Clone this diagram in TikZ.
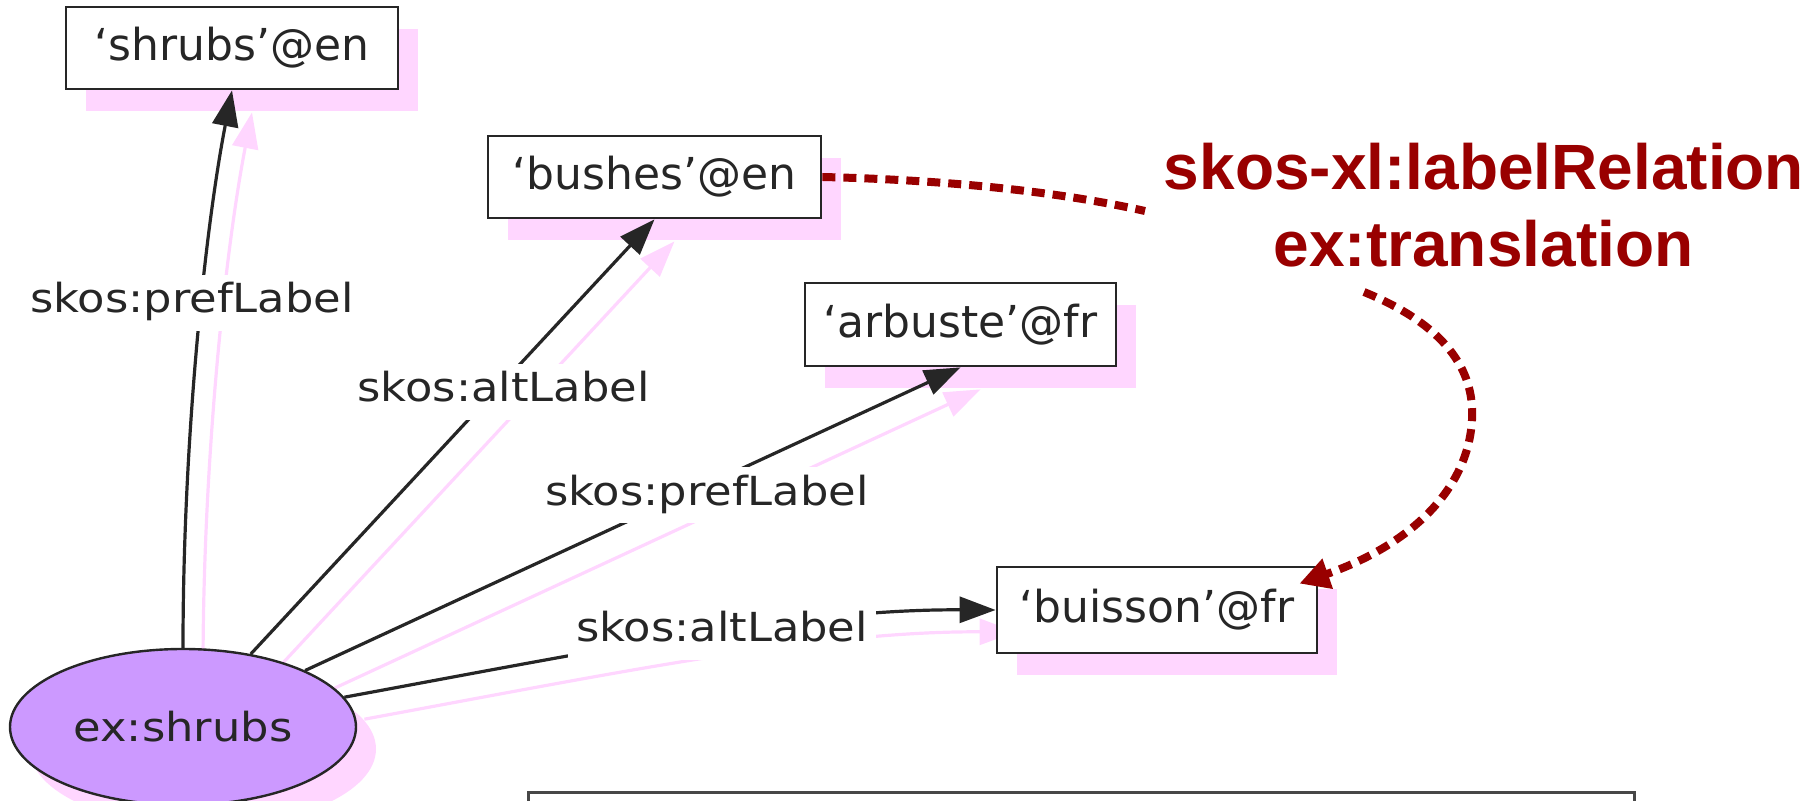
\documentclass[tikz,border=0pt]{standalone}
\usepackage{fontspec}
\usetikzlibrary{arrows.meta,shapes.geometric,shadows}
\newfontfamily\boxfont{DejaVu Sans}
\newfontfamily\lblfont{DejaVu Sans}[FakeStretch=1.12]
\newfontfamily\relfont{Liberation Sans}
\definecolor{shpink}{RGB}{255,214,255}
\definecolor{lav}{RGB}{204,153,255}
\definecolor{relred}{RGB}{153,0,0}
\definecolor{ink}{RGB}{38,38,38}
\pgfdeclarelayer{bg}
\pgfsetlayers{bg,main}
\begin{document}
\begin{tikzpicture}[x=0.5pt,y=-0.5pt,
  pinkshadow/.style={drop shadow={shadow xshift=10pt,shadow yshift=-11pt,fill=shpink,opacity=1}},
  lit/.style={draw=ink, line width=1.4pt, fill=white, inner sep=0pt, text=ink,
     font=\boxfont\fontsize{22pt}{26pt}\selectfont, pinkshadow},
  res/.style={ellipse, draw=ink, line width=1.2pt, fill=lav, inner sep=0pt,
     minimum width=173pt, minimum height=78pt, text=ink,
     font=\lblfont\fontsize{20pt}{24pt}\selectfont, pinkshadow},
  prop/.style={fill=white, inner sep=4pt, text height=15pt, text depth=4.8pt,
     anchor=base, text=ink, font=\lblfont\fontsize{20pt}{24pt}\selectfont},
  edgeline/.style={draw=ink, line width=1.6pt, -{Triangle[length=18pt,width=13pt]}},
  edgeshadow/.style={draw=shpink, line width=1.6pt, -{Triangle[length=18pt,width=13pt]},
     transform canvas={xshift=10pt,yshift=-11pt}},
  reldot/.style={draw=relred, line width=4pt, dash pattern=on 6.5pt off 4pt},
  reltext/.style={font=\relfont\bfseries\fontsize{32pt}{38pt}\selectfont,
     text=relred, anchor=base, inner sep=0pt}
]
\useasboundingbox (0,0) rectangle (1812,801);

% nodes
\node[lit, minimum width=166pt, minimum height=41pt] (sh) at (232,48) {‘shrubs’@en};
\node[lit, minimum width=166.5pt, minimum height=41pt] (bu) at (654.5,177) {‘bushes’@en};
\node[lit, minimum width=155.5pt, minimum height=41.5pt] (ar) at (960.5,324.5) {‘arbuste’@fr};
\node[lit, minimum width=160pt, minimum height=43pt] (bs) at (1157,610) {‘buisson’@fr};
\node[res] (ell) at (183,727) {ex:shrubs};
\node[draw=ink!85, line width=1.4pt, inner sep=0pt, minimum width=553pt,
      minimum height=40pt, anchor=north west] (note) at (527,791) {};

% pink shadows of the edges
\begin{pgfonlayer}{bg}
\draw[edgeshadow] (ell.north) .. controls (183,440) and (205,230) .. (sh.south);
\draw[edgeshadow] (ell) -- (bu.south);
\draw[edgeshadow] (ell) -- (ar.south);
\draw[edgeshadow] (ell) .. controls (600,650) and (800,609) .. (bs.west);
\end{pgfonlayer}

% edges
\draw[edgeline] (ell.north) .. controls (183,440) and (205,230) .. (sh.south);
\draw[edgeline] (ell) -- (bu.south);
\draw[edgeline] (ell) -- (ar.south);
\draw[edgeline] (ell) .. controls (600,650) and (800,609) .. (bs.west);

% edge labels
\node[prop] (l1) at (192,313) {skos:prefLabel};
\node[prop] (l2) at (503.5,402) {skos:altLabel};
\node[prop] (l3) at (707,505.5) {skos:prefLabel};
\node[prop] (l4) at (722,642) {skos:altLabel};

% red relation
\node[reltext] (rel1) at (1484,190) {skos-xl:labelRelation};
\node[reltext] (rel2) at (1483.5,267) {ex:translation};
\coordinate (r1) at (1145,211);
\coordinate (r2) at (1364,292);
\coordinate (rtip) at ([shift={(-19,18)}]bs.north east);
\draw[reldot] (bu.east) .. controls (950,180) and (1060,192) .. (r1);
\draw[reldot, -{Triangle[length=15pt,width=15pt]}] (r2)
   .. controls (1445,325) and (1475,370) .. (1472,420)
   .. controls (1468,490) and (1410,545) .. (rtip);
\end{tikzpicture}
\end{document}
